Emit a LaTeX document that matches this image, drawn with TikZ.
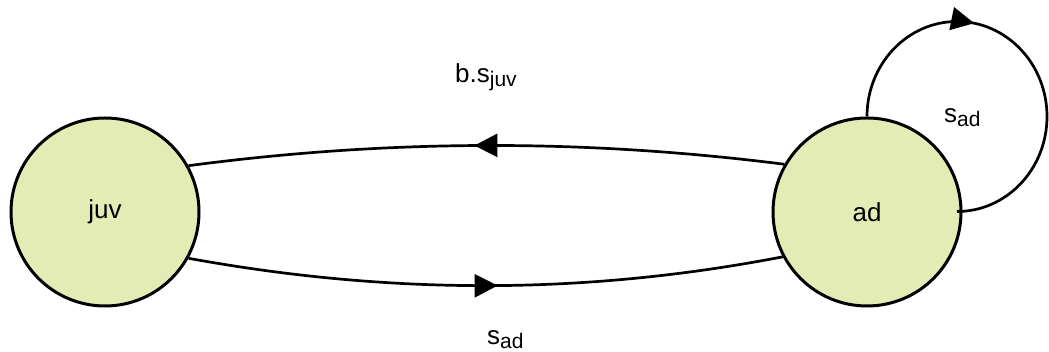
\documentclass[tikz,border=0pt]{standalone}
\usepackage{fontspec}
\setmainfont{Liberation Sans}
\usetikzlibrary{arrows.meta,decorations.markings}
\definecolor{statefill}{RGB}{228,236,182}
% label with a lowered, smaller index
\newcommand\subtxt[2]{#1\raisebox{-4pt}{\fontsize{21}{21}\selectfont #2}}
\begin{document}
\begin{tikzpicture}[x=1pt,y=1pt,
  state/.style={circle,draw=black,line width=3pt,fill=statefill,
    minimum size=188pt,inner sep=0pt,font=\fontsize{26}{26}\selectfont},
  trans/.style={line width=2.7pt},
  midarrow/.style={postaction={decorate},decoration={markings,
    mark=at position #1 with {\arrow{Triangle[length=23pt,width=23pt]}}}},
  lbl/.style={font=\fontsize{26}{26}\selectfont,inner sep=0pt,anchor=base west}]
\useasboundingbox (0,0) rectangle (1049,352);
% states
\node[state] (juv) at (105,140) {juv};
\node[state] (ad) at (867,140) {ad};
% transitions
\draw[trans,midarrow=0.52] (ad.150) .. controls (585,213) and (390,213) .. (juv.29);
\draw[trans,midarrow=0.52] (juv.-29) .. controls (390,57) and (585,57) .. (ad.208);
\draw[trans,midarrow=0.373] (ad.north) arc[start angle=180,end angle=-90,x radius=90,y radius=95];
% labels
\node[lbl] (lup) at (455,269) {\subtxt{b.s}{juv}};
\node[lbl] (ldn) at (487,7) {\subtxt{s}{ad}};
\node[lbl] (lloop) at (944,229) {\subtxt{s}{ad}};
\end{tikzpicture}
\end{document}
